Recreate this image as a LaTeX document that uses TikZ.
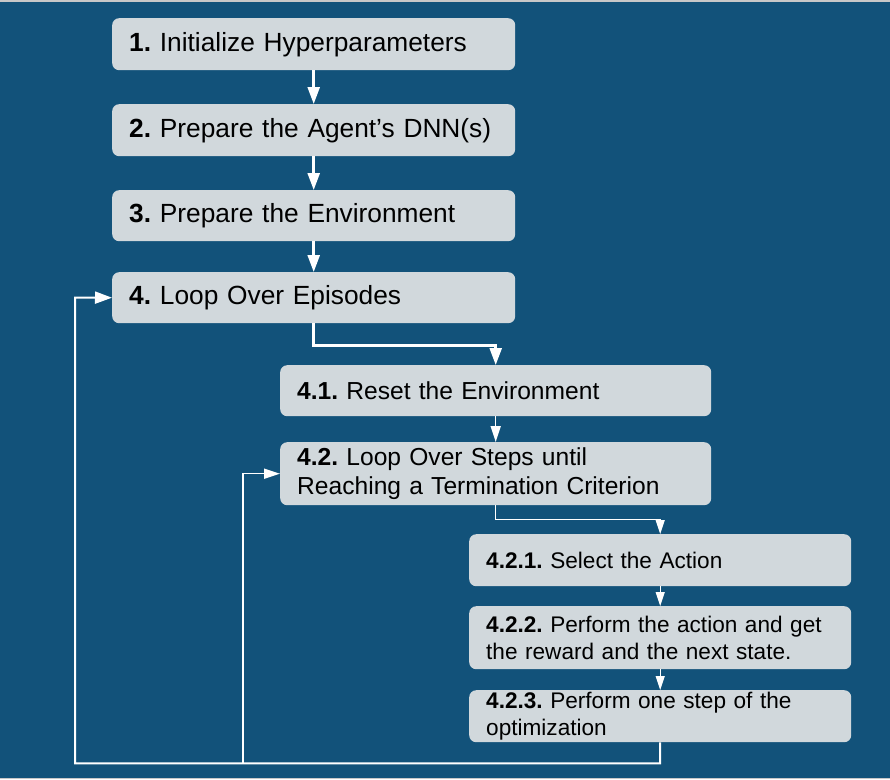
\documentclass[tikz,border=0pt]{standalone}
\usepackage{fontspec}
\setmainfont{Liberation Sans}
\usetikzlibrary{arrows.meta,calc}
\definecolor{bgblue}{RGB}{18,82,122}
\definecolor{boxgray}{RGB}{209,216,220}
\definecolor{edgegray}{RGB}{200,200,200}
\tikzset{
  stepbox/.style={draw=none, fill=boxgray, rounded corners=7pt, anchor=north west,
    inner xsep=17pt, inner ysep=0pt, align=left, text=black},
  lvA/.style={stepbox, font=\fontsize{26.3}{31}\selectfont\frenchspacing, text width=369pt},
  lvB/.style={stepbox, font=\fontsize{24.6}{29}\selectfont\frenchspacing, text width=397pt},
  lvC/.style={stepbox, font=\fontsize{22.6}{27}\selectfont\frenchspacing, text width=348pt},
  arrA/.style={draw=white, line width=2.5pt, -{Triangle[length=17pt,width=12pt]}},
  arrB/.style={draw=white, line width=1.5pt, -{Triangle[length=16pt,width=10pt]}},
  arrC/.style={draw=white, line width=1.2pt, -{Triangle[length=14pt,width=9pt]}},
}
\begin{document}
\begin{tikzpicture}[x=1pt,y=-1pt]
\fill[edgegray] (0,0) rectangle (890,779);
\fill[bgblue] (0,1.5) rectangle (890,777.5);
\useasboundingbox (0,0) rectangle (890,779);

\node[lvA, minimum height=52pt] (b1) at (112,18) {\textbf{1.} Initialize Hyperparameters};
\node[lvA, minimum height=52pt] (b2) at (112,104) {\textbf{2.} Prepare the Agent’s DNN(s)};
\node[lvA, minimum height=51pt] (b3) at (112,190) {\textbf{3.} Prepare the Environment};
\node[lvA, minimum height=51pt] (b4) at (112,272) {\textbf{4.} Loop Over Episodes};
\node[lvB, minimum height=51pt] (b41) at (280,365) {\textbf{4.1.} Reset the Environment};
\node[lvB, minimum height=63pt] (b42) at (280,442) {\textbf{4.2.} Loop Over Steps until\\Reaching a Termination Criterion};
\node[lvC, minimum height=52pt] (b421) at (469,534) {\textbf{4.2.1.} Select the Action};
\node[lvC, minimum height=63pt] (b422) at (469,606) {\textbf{4.2.2.} Perform the action and get\\the reward and the next state.};
\node[lvC, minimum height=52pt] (b423) at (469,690) {\textbf{4.2.3.} Perform one step of the\\optimization};

\coordinate (lx) at (75,297.5);
\coordinate (bx) at (243,763);

\draw[arrA] (b1) -- (b2);
\draw[arrA] (b2) -- (b3);
\draw[arrA] (b3) -- (b4);
\draw[arrA] (b4.south) -- ++(0,22) -| (b41.north);
\draw[arrB] (b41) -- (b42);
\draw[arrC] (b42.south) -- ++(0,14) -| (b421.north);
\draw[arrC] (b421) -- (b422);
\draw[arrC] (b422) -- (b423);
\draw[arrA, line width=2pt] (b423.south) -- ++(0,21) -| (lx) -- (b4.west);
\draw[arrB] (bx) |- (b42.west);
\end{tikzpicture}
\end{document}
